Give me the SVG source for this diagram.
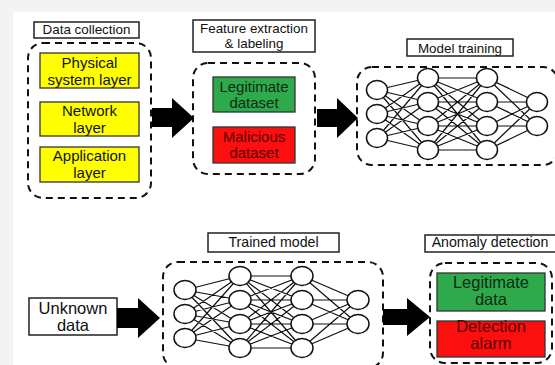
<svg xmlns="http://www.w3.org/2000/svg" width="555" height="365" viewBox="0 0 555 365">
<defs>
<style>
.t{font-family:"Liberation Sans",Arial,sans-serif;fill:#111;text-anchor:middle}
.lbl{font-size:13.4px}
.lbl2{font-size:14.2px}
.body{font-size:15px}
.body2{font-size:16.5px}
.lb{fill:#fff;stroke:#222;stroke-width:1.5}
.dash{fill:none;stroke:#111;stroke-width:2;stroke-dasharray:7 5}
.yel{fill:#ffff00;stroke:#333;stroke-width:1.3}
.grn{fill:#2eaa4c;stroke:#333;stroke-width:1.3}
.red{fill:#fb0f0f;stroke:#333;stroke-width:1.3}
.rt{fill:#5a0000}
.gt{fill:#0c2a10}
.edge{fill:none;stroke:#111;stroke-width:1.2}
.n{fill:#fff;stroke:#111;stroke-width:1.5}
.arr{fill:#000}
</style>
</defs>
<rect x="0" y="0" width="555" height="365" fill="#f3f3f3"/>
<rect x="13" y="12" width="542" height="353" fill="#fff"/>

<g id="data-collection">
<rect class="lb" x="34" y="22" width="105" height="16"/>
<text class="t lbl" x="86.5" y="34">Data collection</text>
<rect class="dash" x="28" y="43" width="123" height="155" rx="15"/>
<rect class="yel" x="40" y="53" width="99" height="35"/>
<text class="t body" x="89.5" y="68">Physical</text>
<text class="t body" x="89.5" y="84.5">system layer</text>
<rect class="yel" x="40" y="102" width="99" height="34"/>
<text class="t body" x="89.5" y="116">Network</text>
<text class="t body" x="89.5" y="132.5">layer</text>
<rect class="yel" x="40" y="147" width="99" height="35"/>
<text class="t body" x="89.5" y="161">Application</text>
<text class="t body" x="89.5" y="177.5">layer</text>
</g>

<g id="feature-extraction">
<rect class="lb" x="193" y="20" width="122" height="32"/>
<text class="t lbl" x="254" y="33">Feature extraction</text>
<text class="t lbl" x="254" y="47.5">&amp; labeling</text>
<rect class="dash" x="193" y="63" width="122" height="111" rx="15"/>
<rect class="grn" x="213" y="77" width="82" height="35"/>
<text class="t body gt" x="254" y="91.5">Legitimate</text>
<text class="t body gt" x="254" y="107.5">dataset</text>
<rect class="red" x="213" y="127" width="82" height="36"/>
<text class="t body rt" x="254" y="141.5">Malicious</text>
<text class="t body rt" x="254" y="157.5">dataset</text>
</g>

<g id="model-training">
<rect class="lb" x="407" y="39" width="106" height="17"/>
<text class="t lbl" x="460" y="52.5">Model training</text>
<rect class="dash" x="357" y="67" width="201" height="98" rx="15"/>
<path class="edge" d="M377 90L428 78M377 90L428 102M377 90L428 126M377 90L428 150M377 114L428 78M377 114L428 102M377 114L428 126M377 114L428 150M377 138L428 78M377 138L428 102M377 138L428 126M377 138L428 150M428 78L487 78M428 78L487 102M428 78L487 126M428 78L487 150M428 102L487 78M428 102L487 102M428 102L487 126M428 102L487 150M428 126L487 78M428 126L487 102M428 126L487 126M428 126L487 150M428 150L487 78M428 150L487 102M428 150L487 126M428 150L487 150M487 78L537 102M487 78L537 126M487 102L537 102M487 102L537 126M487 126L537 102M487 126L537 126M487 150L537 102M487 150L537 126"/>
<ellipse class="n" cx="377" cy="90" rx="10.5" ry="9.5"/>
<ellipse class="n" cx="377" cy="114" rx="10.5" ry="9.5"/>
<ellipse class="n" cx="377" cy="138" rx="10.5" ry="9.5"/>
<ellipse class="n" cx="428" cy="78" rx="10.5" ry="9.5"/>
<ellipse class="n" cx="428" cy="102" rx="10.5" ry="9.5"/>
<ellipse class="n" cx="428" cy="126" rx="10.5" ry="9.5"/>
<ellipse class="n" cx="428" cy="150" rx="10.5" ry="9.5"/>
<ellipse class="n" cx="487" cy="78" rx="10.5" ry="9.5"/>
<ellipse class="n" cx="487" cy="102" rx="10.5" ry="9.5"/>
<ellipse class="n" cx="487" cy="126" rx="10.5" ry="9.5"/>
<ellipse class="n" cx="487" cy="150" rx="10.5" ry="9.5"/>
<ellipse class="n" cx="537" cy="102" rx="10.5" ry="9.5"/>
<ellipse class="n" cx="537" cy="126" rx="10.5" ry="9.5"/>
</g>

<g id="unknown-data">
<rect class="lb" x="29" y="298" width="88" height="37"/>
<text class="t body2" x="73" y="313.5">Unknown</text>
<text class="t body2" x="73" y="330.5">data</text>
</g>

<g id="trained-model">
<rect class="lb" x="208" y="233" width="131" height="19"/>
<text class="t lbl2" x="273.5" y="247">Trained model</text>
<rect class="dash" x="163" y="262" width="220" height="106" rx="15"/>
<path class="edge" d="M185 290L240 276M185 290L240 300M185 290L240 324M185 290L240 348M185 314L240 276M185 314L240 300M185 314L240 324M185 314L240 348M185 338L240 276M185 338L240 300M185 338L240 324M185 338L240 348M240 276L302 276M240 276L302 300M240 276L302 324M240 276L302 348M240 300L302 276M240 300L302 300M240 300L302 324M240 300L302 348M240 324L302 276M240 324L302 300M240 324L302 324M240 324L302 348M240 348L302 276M240 348L302 300M240 348L302 324M240 348L302 348M302 276L358 300M302 276L358 324M302 300L358 300M302 300L358 324M302 324L358 300M302 324L358 324M302 348L358 300M302 348L358 324"/>
<ellipse class="n" cx="185" cy="290" rx="11" ry="9.5"/>
<ellipse class="n" cx="185" cy="314" rx="11" ry="9.5"/>
<ellipse class="n" cx="185" cy="338" rx="11" ry="9.5"/>
<ellipse class="n" cx="240" cy="276" rx="11" ry="9.5"/>
<ellipse class="n" cx="240" cy="300" rx="11" ry="9.5"/>
<ellipse class="n" cx="240" cy="324" rx="11" ry="9.5"/>
<ellipse class="n" cx="240" cy="348" rx="11" ry="9.5"/>
<ellipse class="n" cx="302" cy="276" rx="11" ry="9.5"/>
<ellipse class="n" cx="302" cy="300" rx="11" ry="9.5"/>
<ellipse class="n" cx="302" cy="324" rx="11" ry="9.5"/>
<ellipse class="n" cx="302" cy="348" rx="11" ry="9.5"/>
<ellipse class="n" cx="358" cy="300" rx="11" ry="9.5"/>
<ellipse class="n" cx="358" cy="324" rx="11" ry="9.5"/>
</g>

<g id="anomaly-detection">
<rect class="lb" x="425" y="235" width="134" height="17"/>
<text class="t lbl2" x="490" y="247">Anomaly detection</text>
<rect class="dash" x="430" y="263" width="122" height="100" rx="15"/>
<rect class="grn" x="437" y="273" width="108" height="38"/>
<text class="t body2 gt" x="491" y="288">Legitimate</text>
<text class="t body2 gt" x="491" y="305">data</text>
<rect class="red" x="437" y="321" width="108" height="36"/>
<text class="t body2 rt" x="491" y="332">Detection</text>
<text class="t body2 rt" x="491" y="349">alarm</text>
</g>

<g id="connectors">
<polygon class="arr" points="152,108 172,108 172,98 194,118 172,138 172,127 152,127"/>
<polygon class="arr" points="317,109 337,109 337,98 358,118 337,138 337,127 317,127"/>
<polygon class="arr" points="117,308 138,308 138,298 160,318 138,338 138,328 117,328"/>
<polygon class="arr" points="383,309 407,309 407,298 430,317 407,336 407,325 383,325"/>
</g>
</svg>
